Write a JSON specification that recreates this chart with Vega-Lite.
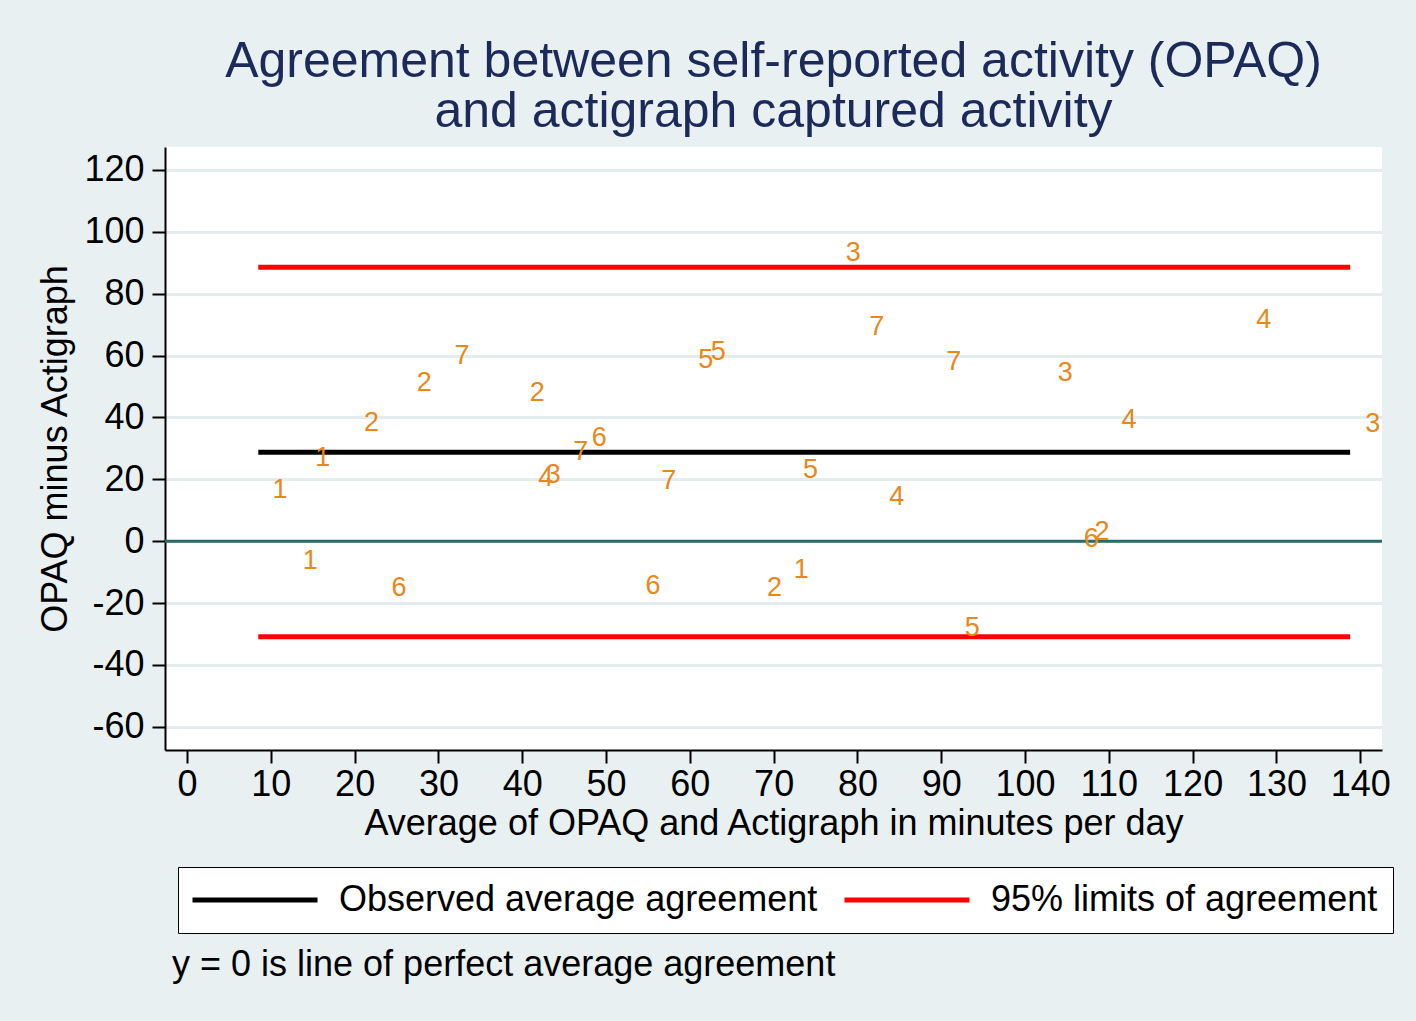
{
  "$schema": "https://vega.github.io/schema/vega-lite/v6.json",
  "width": 1217,
  "height": 603,
  "autosize": {"type": "none"},
  "padding": {"left": 165, "top": 147, "right": 34, "bottom": 271},
  "background": "#E8F0F2",
  "title": {
    "text": ["Agreement between self-reported activity (OPAQ)", "and actigraph captured activity"],
    "fontSize": 50,
    "lineHeight": 50,
    "font": "Liberation Sans",
    "fontWeight": "normal",
    "color": "#1C2A5A",
    "anchor": "middle",
    "frame": "group",
    "offset": 10
  },
  "datasets": {
    "points": [
      {"avg": 79.5, "diff": 93.2, "id": "3"},
      {"avg": 82.3, "diff": 69.3, "id": "7"},
      {"avg": 128.5, "diff": 71.5, "id": "4"},
      {"avg": 32.8, "diff": 59.8, "id": "7"},
      {"avg": 28.3, "diff": 51.0, "id": "2"},
      {"avg": 61.9, "diff": 58.5, "id": "5"},
      {"avg": 63.4, "diff": 61.2, "id": "5"},
      {"avg": 91.5, "diff": 57.8, "id": "7"},
      {"avg": 104.8, "diff": 54.2, "id": "3"},
      {"avg": 41.8, "diff": 47.8, "id": "2"},
      {"avg": 22.0, "diff": 38.3, "id": "2"},
      {"avg": 112.4, "diff": 39.2, "id": "4"},
      {"avg": 141.5, "diff": 37.8, "id": "3"},
      {"avg": 49.2, "diff": 33.2, "id": "6"},
      {"avg": 47.0, "diff": 28.9, "id": "7"},
      {"avg": 16.2, "diff": 26.8, "id": "1"},
      {"avg": 11.1, "diff": 16.5, "id": "1"},
      {"avg": 42.8, "diff": 20.3, "id": "4"},
      {"avg": 43.7, "diff": 21.4, "id": "3"},
      {"avg": 57.5, "diff": 19.5, "id": "7"},
      {"avg": 74.4, "diff": 23.0, "id": "5"},
      {"avg": 84.7, "diff": 14.4, "id": "4"},
      {"avg": 107.9, "diff": 0.6, "id": "6"},
      {"avg": 109.2, "diff": 3.1, "id": "2"},
      {"avg": 14.7, "diff": -6.3, "id": "1"},
      {"avg": 25.3, "diff": -15.2, "id": "6"},
      {"avg": 55.6, "diff": -14.4, "id": "6"},
      {"avg": 70.1, "diff": -15.2, "id": "2"},
      {"avg": 73.3, "diff": -9.3, "id": "1"},
      {"avg": 93.7, "diff": -28.1, "id": "5"}
    ],
    "lines": [
      {"type": "95% limits of agreement", "y": 88.5, "x1": 8.5, "x2": 138.8},
      {"type": "95% limits of agreement", "y": -30.9, "x1": 8.5, "x2": 138.8},
      {"type": "Observed average agreement", "y": 28.7, "x1": 8.5, "x2": 138.8}
    ],
    "zero": [
      {"y": 0, "note": "y = 0 is line of perfect average agreement"}
    ]
  },
  "config": {
    "view": {"fill": "white", "stroke": null},
    "font": "Liberation Sans",
    "axis": {
      "labelFont": "Liberation Sans",
      "titleFont": "Liberation Sans",
      "labelFontSize": 36,
      "titleFontSize": 36,
      "titleFontWeight": "normal",
      "labelColor": "black",
      "titleColor": "black",
      "domainColor": "black",
      "domainWidth": 2,
      "tickColor": "black",
      "tickWidth": 2
    },
    "legend": {
      "labelFont": "Liberation Sans",
      "labelFontSize": 36,
      "labelColor": "black",
      "labelLimit": 0
    }
  },
  "layer": [
    {
      "data": {"name": "zero"},
      "mark": {"type": "rule", "color": "#2B6A66", "strokeWidth": 3},
      "encoding": {
        "y": {"field": "y", "type": "quantitative"},
        "strokeDash": {
          "field": "note",
          "type": "nominal",
          "scale": {"domain": ["y = 0 is line of perfect average agreement"], "range": [[1, 0]]},
          "legend": {
            "title": null,
            "orient": "none",
            "legendX": -29,
            "legendY": 800,
            "padding": 0,
            "symbolOpacity": 0,
            "symbolSize": 0,
            "symbolStrokeWidth": 0,
            "labelOffset": 0
          }
        }
      }
    },
    {
      "data": {"name": "lines"},
      "mark": {"type": "rule", "strokeWidth": 5},
      "encoding": {
        "x": {"field": "x1", "type": "quantitative"},
        "x2": {"field": "x2"},
        "y": {"field": "y", "type": "quantitative"},
        "color": {
          "field": "type",
          "type": "nominal",
          "scale": {"domain": ["Observed average agreement", "95% limits of agreement"], "range": ["black", "#FF0000"]},
          "legend": {
            "title": null,
            "orient": "none",
            "direction": "horizontal",
            "columns": 2,
            "legendX": 13,
            "legendY": 720,
            "padding": 15,
            "fillColor": "white",
            "strokeColor": "black",
            "symbolType": "M-6.25,0H6.25",
            "symbolSize": 400,
            "symbolStrokeWidth": 5,
            "symbolOffset": 44,
            "labelOffset": 66,
            "columnPadding": 16
          }
        }
      }
    },
    {
      "data": {"name": "points"},
      "mark": {"type": "text", "fontSize": 27, "color": "#E8871A", "align": "center", "baseline": "middle", "font": "Liberation Sans"},
      "encoding": {
        "x": {
          "field": "avg",
          "type": "quantitative",
          "scale": {"domain": [-2.63, 142.6], "nice": false, "zero": false},
          "axis": {
            "values": [0, 10, 20, 30, 40, 50, 60, 70, 80, 90, 100, 110, 120, 130, 140],
            "title": "Average of OPAQ and Actigraph in minutes per day",
            "grid": false,
            "tickSize": 13,
            "labelPadding": 4,
            "titlePadding": 4,
            "labelFlush": false
          }
        },
        "y": {
          "field": "diff",
          "type": "quantitative",
          "scale": {"domain": [-67.5, 127.4], "nice": false, "zero": false},
          "axis": {
            "values": [-60, -50, -40, -30, -20, -10, 0, 10, 20, 30, 40, 50, 60, 70, 80, 90, 100, 110, 120],
            "labelExpr": "datum.value % 20 === 0 ? '' + datum.value : ''",
            "title": "OPAQ minus Actigraph",
            "grid": true,
            "gridColor": "#E3ECEF",
            "gridWidth": 3,
            "gridOpacity": {"condition": {"test": "datum.value % 20 === 0", "value": 1}, "value": 0},
            "tickSize": {"condition": {"test": "datum.value % 20 === 0", "value": 13}, "value": 7},
            "labelPadding": 8,
            "titlePadding": 9,
            "labelFlush": false
          }
        },
        "text": {"field": "id", "type": "nominal"}
      }
    }
  ]
}
